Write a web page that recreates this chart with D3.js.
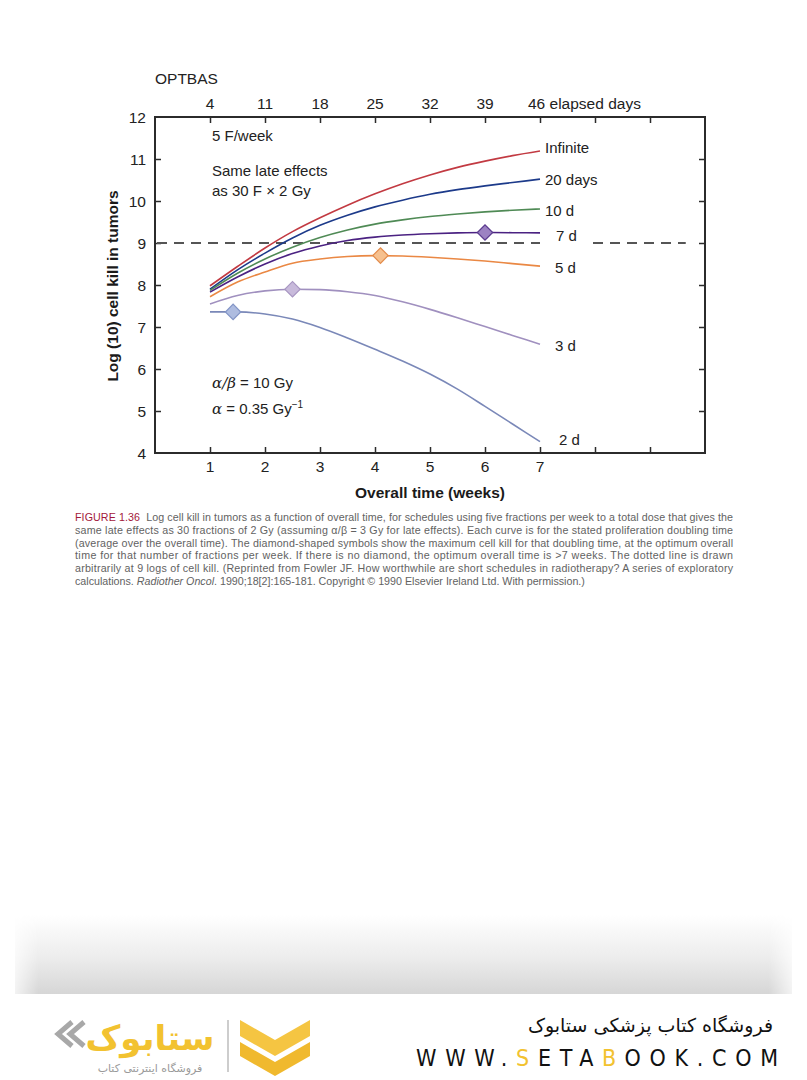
<!DOCTYPE html>
<html>
<head>
<meta charset="utf-8">
<script src="https://cdn.jsdelivr.net/npm/d3@7"></script>
<style>
  html, body { margin: 0; padding: 0; background: #fff; }
  svg { display: block; }
  text { white-space: pre; }
</style>
</head>
<body>
<svg id="chart" width="807" height="1080"></svg>
<script>
// ---------------- DATA ----------------
const weeks = [1, 1.5, 2, 2.5, 3, 3.5, 4, 4.5, 5, 5.5, 6, 6.5, 7];
const seriesNames = ["Infinite", "20 days", "10 d", "7 d", "5 d", "3 d", "2 d"];
const infiniteVals = [7.98, 8.44, 8.88, 9.27, 9.60, 9.90, 10.17, 10.41, 10.62, 10.80, 10.95, 11.08, 11.19];
const days20Vals   = [7.90, 8.36, 8.76, 9.12, 9.42, 9.66, 9.86, 10.02, 10.16, 10.27, 10.36, 10.44, 10.52];
const days10Vals   = [7.87, 8.28, 8.62, 8.90, 9.13, 9.31, 9.45, 9.55, 9.63, 9.69, 9.74, 9.78, 9.81];
const days7Vals    = [7.83, 8.19, 8.50, 8.75, 8.93, 9.06, 9.14, 9.19, 9.22, 9.24, 9.25, 9.245, 9.24];
const days5Vals    = [7.72, 8.07, 8.31, 8.52, 8.62, 8.68, 8.70, 8.69, 8.66, 8.62, 8.57, 8.51, 8.45];
const days3Vals    = [7.55, 7.75, 7.86, 7.90, 7.89, 7.84, 7.75, 7.60, 7.42, 7.22, 7.01, 6.80, 6.59];
const days2Vals    = [7.36, 7.36, 7.31, 7.19, 6.99, 6.74, 6.47, 6.19, 5.88, 5.52, 5.11, 4.69, 4.27];
// optimum (diamond) points
const optimumSeries = ["2 d", "3 d", "5 d", "7 d"];
const optimumWeeks  = [1.42, 2.5, 4.1, 6.0];
const optimumKill   = [7.36, 7.9, 8.7, 9.25];
const referenceKill = 9;
const yTicks = [4, 5, 6, 7, 8, 9, 10, 11, 12];
const xTicks = [1, 2, 3, 4, 5, 6, 7, 8, 9];
const xTickLabels = ["1", "2", "3", "4", "5", "6", "7", "", ""];
const topTickLabels = ["4", "11", "18", "25", "32", "39", "46 elapsed days", "", ""];
const captionLines = [
  "Log cell kill in tumors as a function of overall time, for schedules using five fractions per week to a total dose that gives the",
  "same late effects as 30 fractions of 2 Gy (assuming \u03b1/\u03b2 = 3 Gy for late effects). Each curve is for the stated proliferation doubling time",
  "(average over the overall time). The diamond-shaped symbols show the maximum cell kill for that doubling time, at the optimum overall",
  "time for that number of fractions per week. If there is no diamond, the optimum overall time is >7 weeks. The dotted line is drawn",
  "arbitrarily at 9 logs of cell kill. (Reprinted from Fowler JF. How worthwhile are short schedules in radiotherapy? A series of exploratory",
  "calculations. "
];

// ---------------- STYLE ----------------
const seriesValues = [infiniteVals, days20Vals, days10Vals, days7Vals, days5Vals, days3Vals, days2Vals];
const seriesColors = ["#c23a42", "#1c3a8a", "#4f8a55", "#4b2282", "#ea8844", "#a090bf", "#7a88b8"];
const diamondFill   = {"2 d": "#aebce0", "3 d": "#c8badb", "5 d": "#f6c08e", "7 d": "#9c82c2"};
const diamondStroke = {"2 d": "#8395c6", "3 d": "#a896c2", "5 d": "#e38c4c", "7 d": "#5a3a8e"};
const labelOffset = {"Infinite": [5, -3], "20 days": [5, 1], "10 d": [5, 2], "7 d": [16, 3], "5 d": [15, 2], "3 d": [15, 2], "2 d": [19, -2]};
const FONT = "'Liberation Sans', Arial, Helvetica, sans-serif";
const TICKFS = 15.5;

const svg = d3.select("#chart");
const x = d3.scaleLinear().domain([0, 10]).range([155, 705]);
const y = d3.scaleLinear().domain([4, 12]).range([453, 117]);
const axisColor = "#2b2b2b";

// ----- frame and axes -----
const gLeft = svg.append("g").attr("transform", `translate(${x(0)},0)`)
  .call(d3.axisRight(y).tickValues(yTicks.slice(1, -1)).tickSize(6).tickFormat(""));
const gRight = svg.append("g").attr("transform", `translate(${x(10)},0)`)
  .call(d3.axisLeft(y).tickValues(yTicks.slice(1, -1)).tickSize(6).tickFormat(""));
const gBottom = svg.append("g").attr("transform", `translate(0,${y(4)})`)
  .call(d3.axisTop(x).tickValues(xTicks).tickSize(6).tickFormat(""));
const gTop = svg.append("g").attr("transform", `translate(0,${y(12)})`)
  .call(d3.axisBottom(x).tickValues(xTicks).tickSize(6).tickFormat(""));
[gLeft, gRight, gBottom, gTop].forEach(g => {
  g.select(".domain").remove();
  g.selectAll(".tick line").attr("stroke", axisColor).attr("stroke-width", 1.5);
});
svg.append("rect").attr("x", x(0)).attr("y", y(12)).attr("width", x(10) - x(0)).attr("height", y(4) - y(12))
  .attr("fill", "none").attr("stroke", axisColor).attr("stroke-width", 2);

// tick labels
svg.append("g").selectAll("text").data(yTicks).join("text")
  .attr("x", 146).attr("y", d => y(d) + 5.5).attr("text-anchor", "end")
  .attr("font-family", FONT).attr("font-size", TICKFS).attr("fill", "#222").text(d => d);
svg.append("g").selectAll("text").data(xTicks).join("text")
  .attr("x", d => x(d)).attr("y", 472).attr("text-anchor", "middle")
  .attr("font-family", FONT).attr("font-size", TICKFS).attr("fill", "#222").text((d, i) => xTickLabels[i]);
svg.append("g").selectAll("text").data(xTicks).join("text")
  .attr("x", (d, i) => i === 6 ? x(d) - 12 : x(d)).attr("y", 109)
  .attr("text-anchor", (d, i) => i === 6 ? "start" : "middle")
  .attr("font-family", FONT).attr("font-size", TICKFS).attr("fill", "#222").text((d, i) => topTickLabels[i]);
svg.append("text").attr("x", 155).attr("y", 84).attr("font-family", FONT).attr("font-size", TICKFS)
  .attr("fill", "#222").text("OPTBAS");

// axis titles
svg.append("text").attr("transform", "translate(118,286) rotate(-90)").attr("text-anchor", "middle")
  .attr("font-family", FONT).attr("font-size", 15.5).attr("font-weight", "bold").attr("fill", "#1a1a1a")
  .text("Log (10) cell kill in tumors");
svg.append("text").attr("x", 430).attr("y", 498).attr("text-anchor", "middle")
  .attr("font-family", FONT).attr("font-size", 15.5).attr("font-weight", "bold").attr("fill", "#1a1a1a")
  .text("Overall time (weeks)");

// reference dashed line
const dashStyle = g => g.attr("stroke", "#555").attr("stroke-width", 2).attr("stroke-dasharray", "10,7");
svg.append("line").attr("x1", x(0) + 2).attr("x2", x(7)).attr("y1", y(referenceKill)).attr("y2", y(referenceKill)).call(dashStyle);
svg.append("line").attr("x1", x(8) - 2).attr("x2", x(9.65)).attr("y1", y(referenceKill)).attr("y2", y(referenceKill)).call(dashStyle);

// curves
const line = d3.line().x(d => x(d[0])).y(d => y(d[1])).curve(d3.curveMonotoneX);
seriesNames.forEach((name, i) => {
  const pts = weeks.map((w, j) => [w, seriesValues[i][j]]);
  svg.append("path").attr("d", line(pts)).attr("fill", "none")
    .attr("stroke", seriesColors[i]).attr("stroke-width", 1.6);
  const last = pts[pts.length - 1];
  const off = labelOffset[name];
  svg.append("text").attr("x", x(last[0]) + off[0]).attr("y", y(last[1]) + off[1] + 5)
    .attr("font-family", FONT).attr("font-size", 15).attr("fill", "#222").text(name);
});

// diamonds
const diamond = d3.symbol().type(d3.symbolSquare).size(118);
optimumSeries.forEach((s, i) => {
  svg.append("path").attr("d", diamond())
    .attr("transform", `translate(${x(optimumWeeks[i])},${y(optimumKill[i])}) rotate(45)`)
    .attr("fill", diamondFill[s]).attr("stroke", diamondStroke[s]).attr("stroke-width", 1.2);
});

// annotations
const ann = (tx, ty, txt) => svg.append("text").attr("x", tx).attr("y", ty)
  .attr("font-family", FONT).attr("font-size", 15).attr("fill", "#222").text(txt);
ann(212, 141, "5 F/week");
ann(212, 176, "Same late effects");
ann(212, 196, "as 30 F \u00d7 2 Gy");
const a1 = ann(212, 388, "");
a1.append("tspan").attr("font-family", "'DejaVu Serif', 'Liberation Serif', serif").attr("font-style", "italic").text("\u03b1/\u03b2");
a1.append("tspan").text(" = 10 Gy");
const a2 = ann(212, 414, "");
a2.append("tspan").attr("font-family", "'DejaVu Serif', 'Liberation Serif', serif").attr("font-style", "italic").text("\u03b1");
a2.append("tspan").text(" = 0.35 Gy");
a2.append("tspan").attr("dy", -6).attr("font-size", 10).text("\u22121");

// ----- caption -----
const capX = 75, capW = 658, capTop = 521, capLH = 12.8;
const capG = svg.append("g").attr("font-family", FONT).attr("font-size", 10.7).attr("fill", "#626262");
captionLines.forEach((t, i) => {
  const tx = capG.append("text").attr("x", capX).attr("y", capTop + i * capLH);
  if (i === 0) {
    tx.append("tspan").attr("fill", "#a3173a").text("FIGURE 1.36");
    tx.append("tspan").text("  " + t);
  } else if (i === captionLines.length - 1) {
    tx.append("tspan").text(t);
    tx.append("tspan").attr("font-style", "italic").text("Radiother Oncol");
    tx.append("tspan").text(". 1990;18[2]:165-181. Copyright \u00a9 1990 Elsevier Ireland Ltd. With permission.)");
  } else {
    tx.text(t);
  }
  if (i < captionLines.length - 1) tx.attr("textLength", capW).attr("lengthAdjust", "spacing");
});

// ----- footer -----
const defs = svg.append("defs");
const gv = defs.append("linearGradient").attr("id", "gv").attr("x1", 0).attr("x2", 0).attr("y1", 0).attr("y2", 1);
gv.append("stop").attr("offset", "0").attr("stop-color", "#ffffff");
gv.append("stop").attr("offset", "0.55").attr("stop-color", "#ececec");
gv.append("stop").attr("offset", "1").attr("stop-color", "#d6d6d6");
const gh = defs.append("linearGradient").attr("id", "gh").attr("x1", 0).attr("x2", 1).attr("y1", 0).attr("y2", 0);
gh.append("stop").attr("offset", "0").attr("stop-color", "#fff").attr("stop-opacity", 0.3);
gh.append("stop").attr("offset", "0.03").attr("stop-color", "#fff").attr("stop-opacity", 1);
gh.append("stop").attr("offset", "0.97").attr("stop-color", "#fff").attr("stop-opacity", 1);
gh.append("stop").attr("offset", "1").attr("stop-color", "#fff").attr("stop-opacity", 0.3);
const mask = defs.append("mask").attr("id", "fm");
mask.append("rect").attr("x", 15).attr("y", 915).attr("width", 777).attr("height", 80).attr("fill", "url(#gh)");
svg.append("rect").attr("x", 15).attr("y", 915).attr("width", 777).attr("height", 79)
  .attr("fill", "url(#gv)").attr("mask", "url(#fm)");

// logo: grey chevrons
const lg = svg.append("g");
lg.append("path").attr("d", "M72,1022 L58,1034 L72,1046 M84,1022 L70,1034 L84,1046")
  .attr("fill", "none").attr("stroke", "#a8a8a8").attr("stroke-width", 5).attr("stroke-linejoin", "miter");
lg.append("text").attr("x", 150).attr("y", 1050).attr("text-anchor", "middle")
  .attr("font-family", "'DejaVu Sans', sans-serif").attr("font-size", 34).attr("font-weight", "bold")
  .attr("fill", "#f2c230").text("ستابوک");
lg.append("text").attr("x", 150).attr("y", 1072).attr("text-anchor", "middle")
  .attr("font-family", "'DejaVu Sans', sans-serif").attr("font-size", 11).attr("fill", "#9a9a9a")
  .text("فروشگاه اینترنتی کتاب");
lg.append("line").attr("x1", 228).attr("x2", 228).attr("y1", 1020).attr("y2", 1072)
  .attr("stroke", "#bdbdbd").attr("stroke-width", 1.5);
// yellow double chevron
lg.append("path").attr("d", "M240,1020 L275,1040 L310,1020 L310,1036 L275,1056 L240,1036 Z").attr("fill", "#f5c542");
lg.append("path").attr("d", "M240,1042 L275,1062 L310,1042 L310,1056 L275,1076 L240,1056 Z").attr("fill", "#f0b92e");

svg.append("text").attr("x", 773).attr("y", 1032).attr("text-anchor", "end")
  .attr("font-family", "'DejaVu Sans', sans-serif").attr("font-size", 19).attr("fill", "#111")
  .text("فروشگاه کتاب پزشکی ستابوک");
const www = svg.append("text").attr("x", 416).attr("y", 1066)
  .attr("font-family", "'DejaVu Sans Condensed', 'DejaVu Sans', sans-serif").attr("font-size", 23)
  .attr("fill", "#111").attr("textLength", 362).attr("lengthAdjust", "spacing");
www.append("tspan").text("WWW.");
www.append("tspan").attr("fill", "#f2c230").text("S");
www.append("tspan").text("ETA");
www.append("tspan").attr("fill", "#f2c230").text("B");
www.append("tspan").text("OOK.COM");
</script>
</body>
</html>
